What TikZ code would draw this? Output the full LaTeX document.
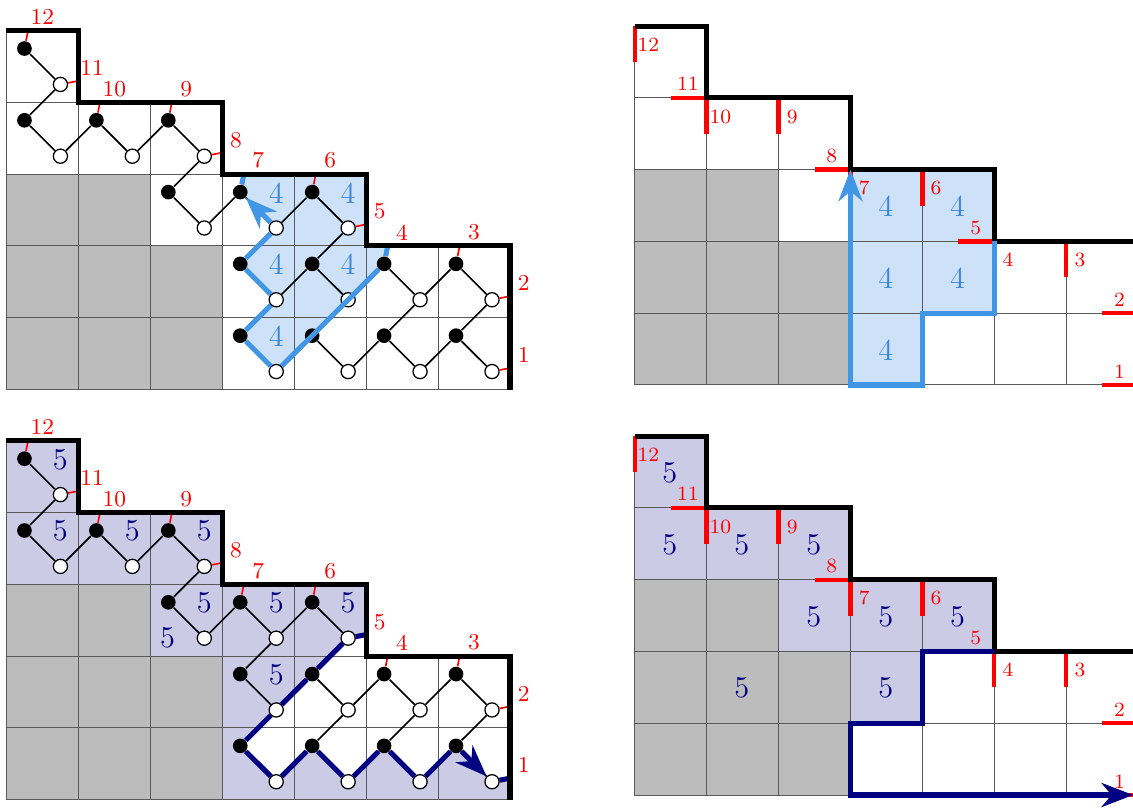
\documentclass[tikz,border=0pt]{standalone}
\usetikzlibrary{arrows.meta}
\definecolor{skyline}{HTML}{4296E6}
\definecolor{skyfill}{HTML}{CDE2F8}
\definecolor{skytext}{HTML}{3A86E0}
\definecolor{navyline}{HTML}{000080}
\definecolor{navyfill}{HTML}{CBCBE6}
\definecolor{greycell}{HTML}{BCBCBC}
\tikzset{
  panel/.style={x=.999cm,y=.997cm},
  gridline/.style={draw=black!65,line width=.4pt},
  frameline/.style={line width=2pt,line join=miter},
  redstub/.style={red,line width=1.7pt},
  redthin/.style={red,line width=.65pt},
  edgeline/.style={line width=.65pt},
  blackv/.style={circle,fill=black,inner sep=0pt,minimum size=5.8pt},
  whitev/.style={circle,draw,fill=white,inner sep=0pt,minimum size=5.6pt,line width=.5pt},
  skypath/.style={skyline,line width=2pt},
  navypath/.style={navyline,line width=2pt},
  bigtip/.style={-{Stealth[length=12.5pt,width=9.5pt,inset=4pt]}},
  redlab/.style={text=red,font=\small,inner sep=0pt},
  redlabs/.style={text=red,font=\footnotesize,inner sep=0pt},
  skynum/.style={text=skytext,font=\large,inner sep=0pt},
  navynum/.style={text=navyline,font=\large,inner sep=0pt},
}
\newcommand{\cellgrid}{
  \foreach \c/\r in {0/0,1/0,2/0,0/1,1/1,2/1,0/2,1/2}
    \fill[greycell] (\c,\r) rectangle ++(1,1);
  \foreach \c/\r in {0/0,1/0,2/0,3/0,4/0,5/0,6/0,0/1,1/1,2/1,3/1,4/1,5/1,6/1,0/2,1/2,2/2,3/2,4/2,0/3,1/3,2/3,0/4}
    \draw[gridline] (\c,\r) rectangle ++(1,1);
}
\newcommand{\cellframe}{
  \draw[frameline] (0,5) -- (1,5) -- (1,4) -- (3,4) -- (3,3) -- (5,3) -- (5,2) -- (7,2) -- (7,0);
}
\newcommand{\vertexgraph}{
  \foreach \c/\r in {0/4,0/3,1/3,2/3,2/2,3/2,4/2,3/1,4/1,5/1,6/1,3/0,4/0,5/0,6/0} {
    \node[blackv] (b\c\r) at (\c+.25,\r+.75) {};
    \node[whitev] (w\c\r) at (\c+.75,\r+.25) {};
  }
  \foreach \a/\b in {b04/w04,w04/b03,b03/w03,w03/b13,b13/w13,w13/b23,b23/w23,w23/b22,b22/w22,w22/b32,b32/w32,w32/b42,b42/w42,w32/b31,w42/b41,b31/w31,w31/b41,b41/w41,w41/b51,b51/w51,w51/b61,b61/w61,w31/b30,w41/b40,w51/b50,w61/b60,b30/w30,w30/b40,b40/w40,w40/b50,b50/w50,w50/b60,b60/w60}
    \draw[edgeline] (\a) -- (\b);
  \foreach \n/\c/\r in {12/0/4,10/1/3,9/2/3,7/3/2,6/4/2,4/5/1,3/6/1} {
    \coordinate (p\n) at (\c+.3,\r+1);
    \draw[redthin] (b\c\r) -- (p\n);
    \node[redlab] (t\n) at (\c+.5,\r+1.19) {\n};
  }
  \foreach \n/\c/\r in {11/0/4,8/2/3,5/4/2,2/6/1,1/6/0} {
    \coordinate (p\n) at (\c+1,\r+.3);
    \draw[redthin] (w\c\r) -- (p\n);
    \node[redlab] (t\n) at (\c+1.19,\r+.48) {\n};
  }
}
\newcommand{\boundarystubs}{
  \foreach \n/\c/\r in {12/0/5,10/1/4,9/2/4,7/3/3,6/4/3,4/5/2,3/6/2} {
    \draw[redstub] (\c,\r) -- ++(0,-.5);
    \node[redlabs] (t\n) at (\c+.19,\r-.26) {\n};
  }
  \foreach \n/\c/\r in {11/1/4,8/3/3,5/5/2,2/7/1,1/7/0} {
    \draw[redstub] (\c,\r) -- ++(-.5,0);
    \node[redlabs] (t\n) at (\c-.26,\r+.19) {\n};
  }
}
\begin{document}
\begin{tikzpicture}
  \clip (0,0) rectangle (15.736,11.222);

  \begin{scope}[shift={(.09,5.812)},panel,name prefix=tl-]
    \fill[skyfill] (3.3,3) -- (5,3) -- (5,2) -- (5.3,2) -- (5.25,1.75) -- (3.75,.25) -- (3.25,.75) -- (3.75,1.25) -- (3.25,1.75) -- (3.75,2.25) -- (3.25,2.75) -- cycle;
    \cellgrid
    \vertexgraph
    \draw[skypath] (p7) -- (b32);
    \draw[skypath] (p4) -- (b51);
    \draw[skypath] (w30) -- (b30) -- (w31) -- (b31) -- (w32);
    \draw[skypath,bigtip] (w32) -- (b32);
    \draw[skypath] (b51) -- (w30);
    \foreach \c/\r in {3/2,4/2,3/1,4/1,3/0}
      \node[skynum] (n\c\r) at (\c+.75,\r+.74) {4};
    \cellframe
  \end{scope}

  \begin{scope}[shift={(8.815,5.875)},panel,name prefix=tr-]
    \foreach \c/\r in {3/2,4/2,3/1,4/1,3/0}
      \fill[skyfill] (\c,\r) rectangle ++(1,1);
    \cellgrid
    \boundarystubs
    \cellframe
    \draw[skypath,line join=miter] (5,2) -- (5,1) -- (4,1) -- (4,0) -- (3,0) -- (3,2.9);
    \draw[skypath,bigtip] (3,2) -- (3,3);
    \foreach \c/\r in {3/2,4/2,3/1,4/1,3/0}
      \node[skynum] (n\c\r) at (\c+.49,\r+.49) {4};
  \end{scope}

  \begin{scope}[shift={(.09,.115)},panel,name prefix=bl-]
    \fill[navyfill] (0,5) -- (1,5) -- (1,4) -- (3,4) -- (3,3) -- (5,3) -- (5,2.3) -- (4.75,2.25) -- (4.25,1.75) -- (3.75,1.25) -- (3.25,.75) -- (3.75,.25) -- (4.25,.75) -- (4.75,.25) -- (5.25,.75) -- (5.75,.25) -- (6.25,.75) -- (6.75,.25) -- (7,.3) -- (7,0) -- (3,0) -- (3,2) -- (2,2) -- (2,3) -- (0,3) -- cycle;
    \cellgrid
    \vertexgraph
    \draw[navypath] (p5) -- (w42) -- (b41) -- (w31) -- (b30) -- (w30) -- (b40) -- (w40) -- (b50) -- (w50) -- (b60);
    \draw[navypath,bigtip] (b60) -- (w60);
    \draw[navypath] (w60) -- (p1);
    \foreach \c/\r in {0/4,0/3,1/3,2/3,2/2,3/2,4/2,3/1}
      \node[navynum] (n\c\r) at (\c+.75,\r+.74) {5};
    \node[navynum] (nx) at (2.24,2.25) {5};
    \cellframe
  \end{scope}

  \begin{scope}[shift={(8.815,.18)},panel,name prefix=br-]
    \foreach \c/\r in {0/4,0/3,1/3,2/3,2/2,3/2,4/2,3/1}
      \fill[navyfill] (\c,\r) rectangle ++(1,1);
    \cellgrid
    \boundarystubs
    \cellframe
    \draw[navypath,line join=miter] (5,2) -- (4,2) -- (4,1) -- (3,1) -- (3,0) -- (6.8,0);
    \draw[navypath,bigtip] (6,0) -- (6.93,0);
    \foreach \c/\r in {0/4,0/3,1/3,2/3,2/2,3/2,4/2,3/1}
      \node[navynum] (n\c\r) at (\c+.49,\r+.49) {5};
    \node[navynum] (nx) at (1.49,1.49) {5};
  \end{scope}
\end{tikzpicture}
\end{document}
